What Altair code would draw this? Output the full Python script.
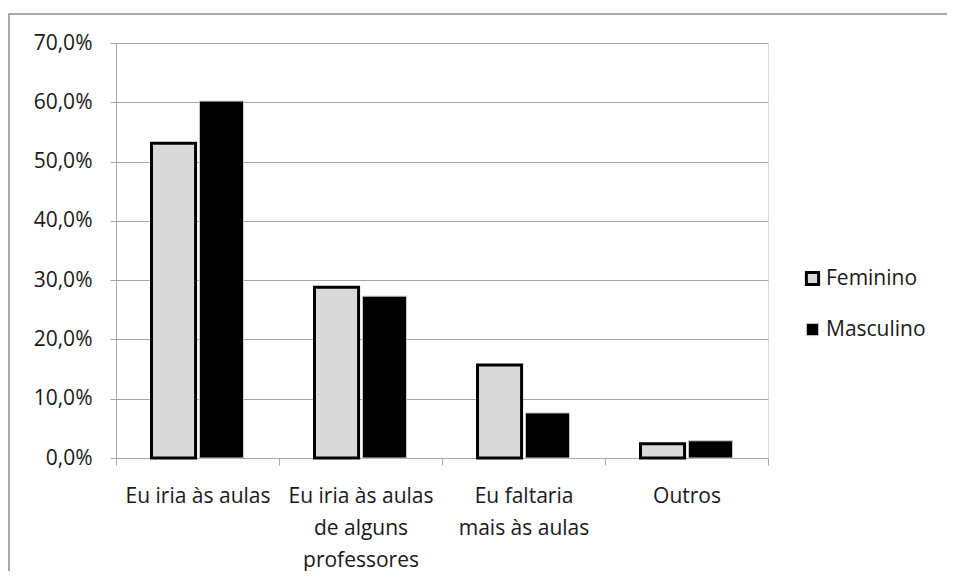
import altair as alt
import pandas as pd

categories = ["Eu iria às aulas", "Eu iria às aulas|de alguns|professores", "Eu faltaria|mais às aulas", "Outros"]
series = ["Feminino", "Masculino"]
feminino = [0.531, 0.288, 0.157, 0.024]
masculino = [0.602, 0.273, 0.076, 0.029]
y_ticks = [0.0, 0.1, 0.2, 0.3, 0.4, 0.5, 0.6, 0.7]

rows = []
for c, f, m in zip(categories, feminino, masculino):
    rows.append({"cat": c, "serie": "Feminino", "val": f})
    rows.append({"cat": c, "serie": "Masculino", "val": m})
df = pd.DataFrame(rows)

FONT = "Open Sans"
GRID = "#a6a6a6"
TXT = "#1a1a1a"

bars = alt.Chart(df).mark_bar().encode(
    x=alt.X("cat:N", sort=categories, title=None,
            scale=alt.Scale(paddingInner=0, paddingOuter=0),
            axis=alt.Axis(labelExpr="isValid(datum.value) ? split(datum.value, '|') : ''",
                          labelAngle=0,
                          labelFontSize=21, labelFont=FONT, labelColor=TXT,
                          labelLineHeight=32, labelPadding=20, labelOverlap=False,
                          labelLimit=0, tickBand="extent", tickSize=7,
                          tickColor=GRID, domainColor=GRID, grid=False)),
    xOffset=alt.XOffset("serie:N", sort=series,
                        scale=alt.Scale(paddingInner=0.08, paddingOuter=0.741)),
    y=alt.Y("val:Q", title=None,
            scale=alt.Scale(domain=[0, 0.7], nice=False),
            axis=alt.Axis(values=y_ticks,
                          labelExpr="replace(format(datum.value, '.1%'), '.', ',')",
                          labelFontSize=21, labelFont=FONT, labelColor=TXT,
                          labelPadding=18, tickSize=6, tickColor=GRID,
                          domainColor=GRID, gridColor=GRID, gridWidth=1)),
    color=alt.Color("serie:N", sort=series, title=None,
                    scale=alt.Scale(domain=series, range=["#d9d9d9", "#000000"]),
                    legend=alt.Legend(orient="none", legendX=686, legendY=225,
                                      symbolType="square", symbolSize=150,
                                      symbolStrokeWidth=3,
                                      labelFontSize=21, labelFont=FONT, labelColor=TXT,
                                      rowPadding=27, labelOffset=3)),
    stroke=alt.Stroke("serie:N", sort=series, title=None,
                      scale=alt.Scale(domain=series, range=["#000000", "#cccccc"])),
    strokeWidth=alt.StrokeWidth("serie:N", legend=None,
                                scale=alt.Scale(domain=series, range=[3, 1])),
)

border = alt.Chart(alt.Data(values=[{}])).mark_rect(
    filled=False, stroke="#8c8c8c", strokeWidth=1.5
).encode(
    x=alt.value(-107), x2=alt.value(900), y=alt.value(-29), y2=alt.value(600)
)

chart = alt.layer(border, bars).properties(
    width=652, height=415,
    autosize=alt.AutoSizeParams(type="none"),
    padding={"left": 108, "top": 35, "right": 179, "bottom": 113},
).configure_view(stroke=None).configure(background="white")

chart.save("out.html", embed_options={"renderer": "svg", "actions": False})
